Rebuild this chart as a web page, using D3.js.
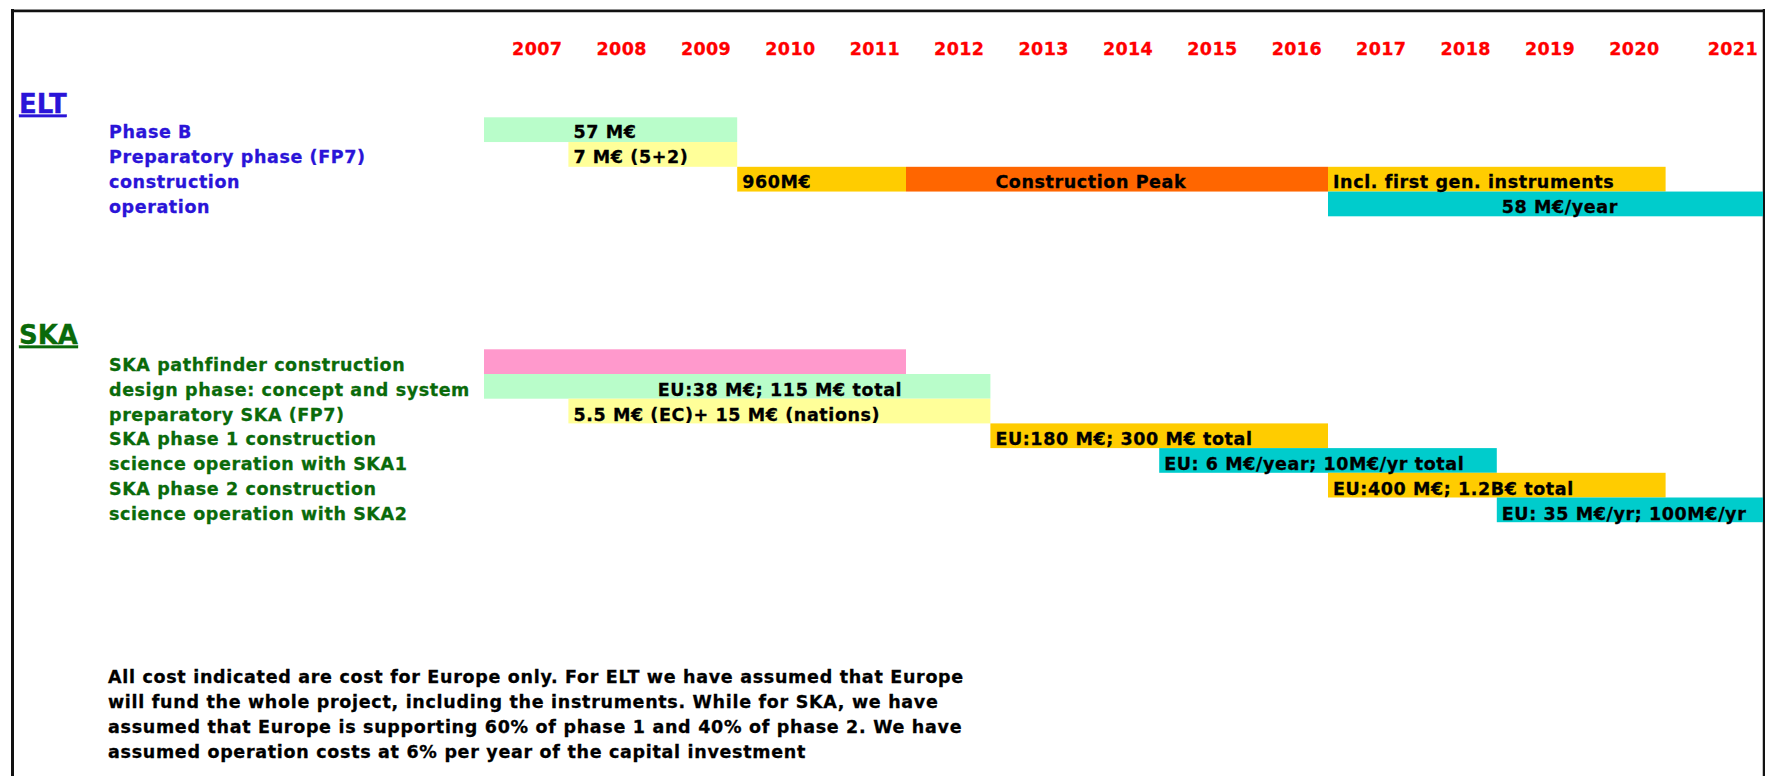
<!DOCTYPE html>
<html>
<head>
<meta charset="UTF-8">
<title>ELT / SKA timeline</title>
<script src="https://d3js.org/d3.v7.min.js"></script>
<style>
  body { margin: 0; padding: 0; background: #fff; }
  svg { display: block; }
  text { font-family: "DejaVu Sans", Verdana, sans-serif; font-weight: bold; stroke-width: 0.3px; }
  .year { fill: #ff0000; stroke: #ff0000; font-size: 17.5px; letter-spacing: 0.4px; }
  .head { font-size: 26px; text-decoration: underline; }
  .row { font-size: 17.5px; letter-spacing: 0.6px; }
  .bar-label { fill: #000; stroke: #000; font-size: 17.5px; letter-spacing: 0.6px; }
  .note { fill: #000; stroke: #000; font-size: 17.5px; letter-spacing: 0.7px; }
</style>
</head>
<body>
<div id="chart"></div>
<script>
const width = 1765;
const height = 776;

// years across the top
const years = [2007, 2008, 2009, 2010, 2011, 2012, 2013, 2014, 2015, 2016, 2017, 2018, 2019, 2020, 2021];

// row labels
const eltRows = ["Phase B", "Preparatory phase (FP7)", "construction", "operation"];
const skaRows = [
  "SKA pathfinder construction",
  "design phase: concept and system",
  "preparatory SKA (FP7)",
  "SKA phase 1 construction",
  "science operation with SKA1",
  "SKA phase 2 construction",
  "science operation with SKA2"
];

// bars: start/end year (inclusive), kind, text and the year cell where the text sits
const eltBars = [
  { row: "Phase B", start: 2007, end: 2009, kind: "design", label: "57 M€", at: 2008 },
  { row: "Preparatory phase (FP7)", start: 2008, end: 2009, kind: "prep", label: "7 M€ (5+2)", at: 2008 },
  { row: "construction", start: 2010, end: 2011, kind: "build", label: "960M€", at: 2010 },
  { row: "construction", start: 2012, end: 2016, kind: "peak", label: "Construction Peak", at: 2013 },
  { row: "construction", start: 2017, end: 2020, kind: "build", label: "Incl. first gen. instruments", at: 2017 },
  { row: "operation", start: 2017, end: 2021, kind: "ops", label: "58 M€/year", at: 2019 }
];

const skaBars = [
  { row: "SKA pathfinder construction", start: 2007, end: 2011, kind: "pathfinder", label: "", at: 2007 },
  { row: "design phase: concept and system", start: 2007, end: 2012, kind: "design", label: "EU:38 M€; 115 M€ total", at: 2009 },
  { row: "preparatory SKA (FP7)", start: 2008, end: 2012, kind: "prep", label: "5.5 M€ (EC)+ 15 M€ (nations)", at: 2008 },
  { row: "SKA phase 1 construction", start: 2013, end: 2016, kind: "build", label: "EU:180 M€; 300 M€ total", at: 2013 },
  { row: "science operation with SKA1", start: 2015, end: 2018, kind: "ops", label: "EU: 6 M€/year; 10M€/yr total", at: 2015 },
  { row: "SKA phase 2 construction", start: 2017, end: 2020, kind: "build", label: "EU:400 M€; 1.2B€ total", at: 2017 },
  { row: "science operation with SKA2", start: 2019, end: 2021, kind: "ops", label: "EU: 35 M€/yr; 100M€/yr", at: 2019 }
];

const noteLines = [
  "All cost indicated are cost for Europe only. For ELT we have assumed that Europe",
  "will fund the whole project, including the instruments. While for SKA, we have",
  "assumed that Europe is supporting 60% of phase 1 and 40% of phase 2. We have",
  "assumed operation costs at 6% per year of the capital investment"
];

const svg = d3.select("#chart")
  .append("svg")
  .attr("width", width)
  .attr("height", height);

// column edges: equal columns, the last one runs to the frame
const frameRight = 1763;
const x = d3.scaleLinear()
  .domain([2007, 2021, 2022])
  .range([484, 484 + 14 * 84.4, frameRight]);

const color = d3.scaleOrdinal()
  .domain(["design", "prep", "build", "peak", "ops", "pathfinder"])
  .range(["#b9fdca", "#ffff99", "#ffcc00", "#ff6600", "#00cccc", "#ff99cc"]);

const yElt = d3.scaleBand().domain(eltRows).range([117.3, 117.3 + 4 * 24.75]);
const ySka = d3.scaleBand().domain(skaRows).range([349.3, 349.3 + 7 * 24.7]);

// frame (top, left, right)
svg.append("line").attr("x1", 11).attr("x2", frameRight + 1).attr("y1", 9.5).attr("y2", 9.5)
  .attr("stroke", "#bbb").attr("stroke-width", 1);
svg.append("line").attr("x1", 11).attr("x2", frameRight + 1).attr("y1", 11).attr("y2", 11)
  .attr("stroke", "#111").attr("stroke-width", 2.5);
svg.append("line").attr("x1", 12.5).attr("x2", 12.5).attr("y1", 9).attr("y2", height)
  .attr("stroke", "#111").attr("stroke-width", 3);
svg.append("line").attr("x1", frameRight + 1).attr("x2", frameRight + 1).attr("y1", 9).attr("y2", height)
  .attr("stroke", "#111").attr("stroke-width", 2.5);

// year labels, right aligned in their columns
svg.append("g").selectAll("text")
  .data(years)
  .join("text")
  .attr("class", "year")
  .attr("x", d => (d === 2021 ? x(d + 1) - 5 : x(d + 1) - 6))
  .attr("y", 55)
  .attr("text-anchor", "end")
  .text(d => d);

function section(title, titleY, rows, bars, y, textColor, baseOff) {
  const g = svg.append("g");

  g.append("text")
    .attr("class", "head")
    .attr("x", 19)
    .attr("y", titleY)
    .attr("fill", textColor)
    .attr("stroke", textColor)
    .text(title);

  g.selectAll("rect")
    .data(bars)
    .join("rect")
    .attr("x", d => x(d.start))
    .attr("y", d => y(d.row))
    .attr("width", d => x(d.end + 1) - x(d.start))
    .attr("height", y.bandwidth())
    .attr("fill", d => color(d.kind));

  g.selectAll("text.row")
    .data(rows)
    .join("text")
    .attr("class", "row")
    .attr("x", 109)
    .attr("y", d => y(d) + baseOff)
    .attr("fill", textColor)
    .attr("stroke", textColor)
    .text(d => d);

  g.selectAll("text.bar-label")
    .data(bars.filter(d => d.label))
    .join("text")
    .attr("class", "bar-label")
    .attr("x", d => x(d.at) + 5)
    .attr("y", d => y(d.row) + baseOff)
    .text(d => d.label);
}

section("ELT", 112.5, eltRows, eltBars, yElt, "#2a14d8", 21);
section("SKA", 343.5, skaRows, skaBars, ySka, "#0a6a0a", 22);

// footnote
svg.append("g").selectAll("text")
  .data(noteLines)
  .join("text")
  .attr("class", "note")
  .attr("x", 108)
  .attr("y", (d, i) => 683 + i * 25)
  .text(d => d);
</script>
</body>
</html>
